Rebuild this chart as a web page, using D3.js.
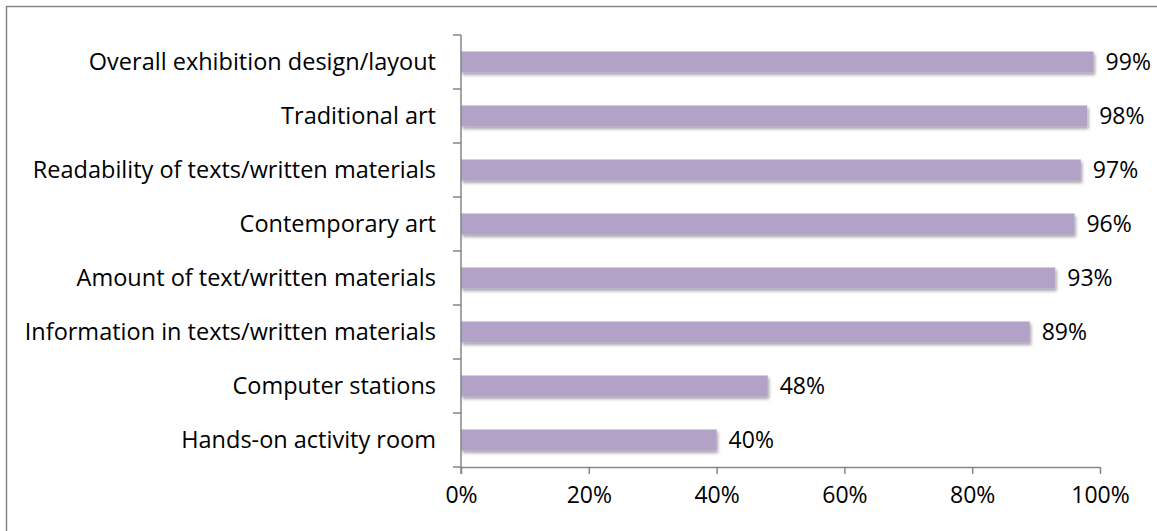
<!DOCTYPE html>
<html>
<head>
<meta charset="utf-8">
<script src="https://cdn.jsdelivr.net/npm/d3@7"></script>
<style>
  html, body { margin: 0; padding: 0; background: #fff; }
  svg { display: block; }
  text { font-family: "Open Sans", Lato, sans-serif; fill: #000; }
</style>
</head>
<body>
<svg id="chart" width="1157" height="531"></svg>
<script>
// Satisfaction ratings by exhibition element (share of visitors, %)
const categories = [
  "Overall exhibition design/layout",
  "Traditional art",
  "Readability of texts/written materials",
  "Contemporary art",
  "Amount of text/written materials",
  "Information in texts/written materials",
  "Computer stations",
  "Hands-on activity room"
];
const values = [99, 98, 97, 96, 93, 89, 48, 40];
const xTicks = [0, 20, 40, 60, 80, 100];

const FONT = "'Open Sans', Lato, sans-serif";
const FS = 23;
const FS_CAT = 23.5;

const svg = d3.select("#chart");
const W = 1157, H = 531;

// outer frame (only left and top edges fall inside the view)
svg.append("rect")
  .attr("x", 6.5).attr("y", 6.5)
  .attr("width", W + 20).attr("height", H + 20)
  .attr("fill", "#fff").attr("stroke", "#868686").attr("stroke-width", 1.5);

const plot = { left: 461, right: 1100, top: 35, bottom: 467 };

const x = d3.scaleLinear().domain([0, 100]).range([plot.left, plot.right]);
const y = d3.scaleBand().domain(categories).range([plot.top, plot.bottom]).padding(0);
const barH = y.bandwidth() * 0.39;

// soft shadow beneath bars
const defs = svg.append("defs");
const f = defs.append("filter").attr("id", "shadow")
  .attr("x", "-5%").attr("y", "-40%").attr("width", "110%").attr("height", "200%");
f.append("feDropShadow")
  .attr("dx", 1.5).attr("dy", 2.5).attr("stdDeviation", 1.6)
  .attr("flood-color", "#000").attr("flood-opacity", 0.35);

// bars
svg.append("g").selectAll("rect")
  .data(categories)
  .join("rect")
  .attr("x", x(0))
  .attr("y", d => y(d) + (y.bandwidth() - barH) / 2)
  .attr("width", (d, i) => x(values[i]) - x(0))
  .attr("height", barH)
  .attr("fill", "#b2a2c7")
  .attr("filter", "url(#shadow)");

// value labels
svg.append("g").selectAll("text")
  .data(categories)
  .join("text")
  .attr("x", (d, i) => x(values[i]) + 12)
  .attr("y", d => y(d) + y.bandwidth() / 2)
  .attr("dy", "0.36em")
  .attr("font-size", FS)
  .text((d, i) => values[i] + "%");

// y axis
const yAxis = svg.append("g")
  .attr("transform", `translate(${plot.left},0)`)
  .call(d3.axisLeft(y).tickSize(0).tickPadding(25));
yAxis.select(".domain").remove();
yAxis.selectAll("text").attr("font-size", FS_CAT).attr("fill", "#000").style("font-family", FONT);

// band boundary ticks on the y axis
const bounds = categories.map(c => y(c)).concat([plot.bottom]);
svg.append("g").selectAll("line")
  .data(bounds)
  .join("line")
  .attr("x1", plot.left - 8).attr("x2", plot.left)
  .attr("y1", d => d).attr("y2", d => d)
  .attr("stroke", "#868686").attr("stroke-width", 1.5);
svg.append("line")
  .attr("x1", plot.left).attr("x2", plot.left)
  .attr("y1", plot.top).attr("y2", plot.bottom + 7)
  .attr("stroke", "#868686").attr("stroke-width", 1.5);

// x axis
const xAxis = svg.append("g")
  .attr("transform", `translate(0,${plot.bottom})`)
  .call(d3.axisBottom(x).tickValues(xTicks).tickSize(7).tickSizeOuter(0).tickPadding(13).tickFormat(d => d + "%"));
xAxis.select(".domain").attr("stroke", "#868686").attr("stroke-width", 1.5);
xAxis.selectAll(".tick line").attr("stroke", "#868686").attr("stroke-width", 1.5);
xAxis.selectAll("text").attr("font-size", FS).attr("fill", "#000").style("font-family", FONT);
</script>
</body>
</html>
